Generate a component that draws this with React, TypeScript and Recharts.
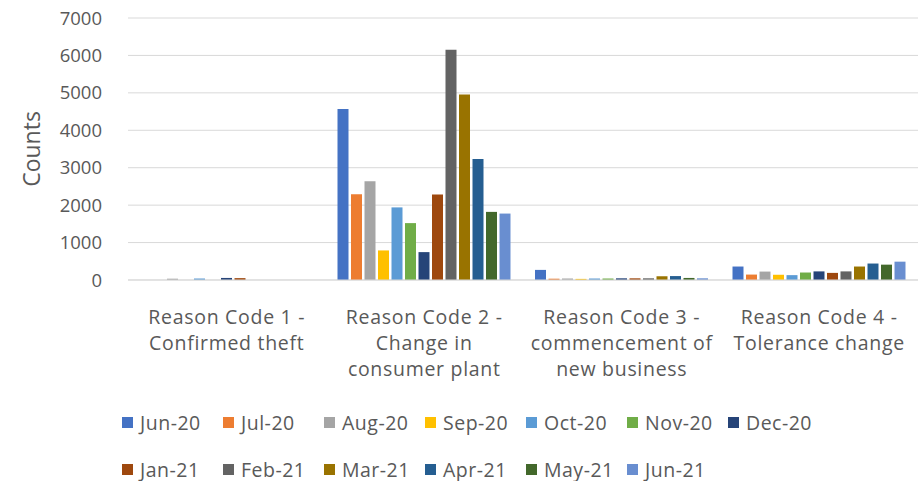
import React from 'react';
import { BarChart, Bar, XAxis, YAxis, CartesianGrid, Legend, Label } from 'recharts';

const FONT = '"Open Sans", Lato, sans-serif';
const TEXT = '#595959';
const GRID = '#d9d9d9';

const categories = [
  'Reason Code 1 - Confirmed theft',
  'Reason Code 2 - Change in consumer plant',
  'Reason Code 3 - commencement of new business',
  'Reason Code 4 - Tolerance change',
];
const categoryLines = [
  ['Reason Code 1 -', 'Confirmed theft'],
  ['Reason Code 2 -', 'Change in', 'consumer plant'],
  ['Reason Code 3 -', 'commencement of', 'new business'],
  ['Reason Code 4 -', 'Tolerance change'],
];
const months = ['Jun-20', 'Jul-20', 'Aug-20', 'Sep-20', 'Oct-20', 'Nov-20', 'Dec-20', 'Jan-21', 'Feb-21', 'Mar-21', 'Apr-21', 'May-21', 'Jun-21'];
const colors = ['#4472C4', '#ED7D31', '#A5A5A5', '#FFC000', '#5B9BD5', '#70AD47', '#264478', '#9E480E', '#636363', '#997300', '#255E91', '#43682B', '#698ED0'];

// values per category, in month order
const code1 = [0, 0, 35, 0, 40, 0, 55, 50, 0, 0, 0, 0, 0];
const code2 = [4570, 2290, 2640, 790, 1940, 1520, 745, 2285, 6150, 4955, 3230, 1820, 1775];
const code3 = [270, 35, 40, 30, 40, 40, 45, 45, 45, 100, 105, 55, 45];
const code4 = [360, 145, 225, 140, 130, 200, 230, 190, 230, 360, 440, 410, 490];
const codeValues = [code1, code2, code3, code4];

const yTicks = [0, 1000, 2000, 3000, 4000, 5000, 6000, 7000];
const edgeTicks = [0, 1, 2, 3, 4];

const data = categories.map((name, i) => {
  const row: Record<string, any> = { name };
  months.forEach((m, j) => {
    row[m] = codeValues[i][j];
  });
  return row;
});

const XTick = (props: any) => {
  const { x, y, payload } = props;
  const lines = categoryLines[payload.index] || [payload.value];
  return (
    <text x={x} y={y} textAnchor="middle" fill={TEXT} fontSize={19.5} letterSpacing={0.7} fontFamily={FONT}>
      {lines.map((l: string, i: number) => (
        <tspan key={i} x={x} dy={i === 0 ? 44 : 26}>
          {l}
        </tspan>
      ))}
    </text>
  );
};

const renderLegend = (props: any) => {
  const payload = [...(props.payload || [])].sort(
    (a: any, b: any) => months.indexOf(a.value) - months.indexOf(b.value)
  );
  const rows = [payload.slice(0, 7), payload.slice(7)];
  return (
    <div style={{ height: 90, boxSizing: 'border-box', paddingLeft: 122, paddingTop: 8, fontFamily: FONT, fontSize: 19.5, letterSpacing: 0.5, color: TEXT, lineHeight: 1 }}>
      {rows.map((row: any[], r: number) => (
        <div key={r} style={{ display: 'flex', height: 47, alignItems: 'center' }}>
          {row.map((entry: any) => (
            <div key={entry.value} style={{ width: 101, display: 'flex', alignItems: 'center', whiteSpace: 'nowrap' }}>
              <span style={{ display: 'inline-block', width: 11, height: 11, background: entry.color, marginRight: 7, flexShrink: 0 }} />
              <span>{entry.value}</span>
            </div>
          ))}
        </div>
      ))}
    </div>
  );
};

const YLabel = (props: any) => {
  const vb = props.viewBox || { x: 0, y: 0, width: 0, height: 0 };
  const cx = vb.x + 31;
  const cy = vb.y + vb.height / 2;
  return (
    <text x={cx} y={cy} transform={`rotate(-90 ${cx} ${cy})`} textAnchor="middle" dominantBaseline="central" fill={TEXT} fontSize={23} fontFamily={FONT}>
      Counts
    </text>
  );
};

export default function App() {
  return (
    <div style={{ position: 'absolute', left: 0, top: 0, width: 920, height: 481, background: '#fff' }}>
      <BarChart
        width={920}
        height={481}
        data={data}
        margin={{ top: 18, right: 2, bottom: 0, left: 0 }}
        barCategoryGap={12}
        barGap={2.5}
      >
        <CartesianGrid vertical={false} stroke={GRID} />
        <XAxis
          xAxisId="edge"
          type="number"
          domain={[0, 4]}
          ticks={edgeTicks}
          allowDataOverflow
          tick={false}
          axisLine={false}
          tickLine={{ stroke: GRID }}
          tickSize={6}
          height={0}
        />
        <XAxis
          xAxisId="cat"
          dataKey="name"
          interval={0}
          tick={XTick}
          tickLine={false}
          tickSize={0}
          tickMargin={0}
          axisLine={{ stroke: GRID }}
          height={111}
        />
        <YAxis
          width={128}
          domain={[0, 7000]}
          ticks={yTicks}
          tick={{ fill: TEXT, fontSize: 18.5, fontFamily: FONT }}
          tickLine={false}
          axisLine={false}
          tickSize={0}
          tickMargin={26}
        >
          <Label content={YLabel} />
        </YAxis>
        <Legend verticalAlign="bottom" itemSorter={null as any} content={renderLegend} wrapperStyle={{ left: 0, width: 920, height: 90 }} />
        {months.map((m, i) => (
          <Bar key={m} xAxisId="cat" dataKey={m} fill={colors[i]} isAnimationActive={false} />
        ))}
      </BarChart>
    </div>
  );
}
